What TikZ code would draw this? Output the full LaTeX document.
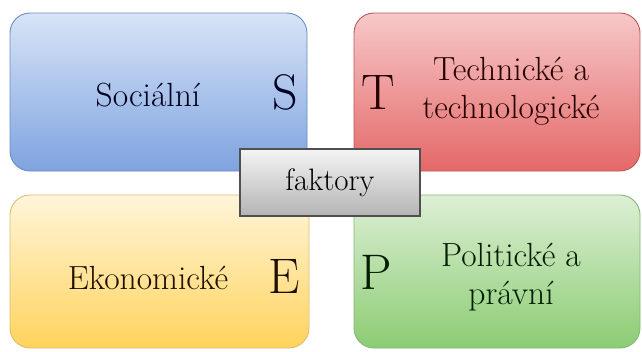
\documentclass[tikz,border=0pt]{standalone}
\definecolor{bluetop}{HTML}{D8E4F7}
\definecolor{bluebot}{HTML}{7EA3DF}
\definecolor{blueline}{HTML}{6A8CC2}
\definecolor{redtop}{HTML}{F7C8C8}
\definecolor{redbot}{HTML}{E46868}
\definecolor{redline}{HTML}{BE5656}
\definecolor{yeltop}{HTML}{FFF5DA}
\definecolor{yelbot}{HTML}{FFD35C}
\definecolor{yelline}{HTML}{DDBE72}
\definecolor{grntop}{HTML}{DDEFD5}
\definecolor{grnbot}{HTML}{8BCC73}
\definecolor{grnline}{HTML}{86B676}
\definecolor{facttop}{HTML}{F4F4F4}
\definecolor{factbot}{HTML}{B4B4B4}
\definecolor{factline}{HTML}{505050}
\tikzset{
  quad/.style={rounded corners=20pt, line width=0.9pt, minimum width=297pt, minimum height=158pt, inner sep=0pt},
  factbox/.style={draw=factline, line width=1.6pt, top color=facttop, bottom color=factbot, minimum width=180pt, minimum height=67pt, inner sep=0pt},
  txtlabel/.style={font=\rmfamily\fontsize{33.5}{38}\selectfont, align=center, inner sep=0pt},
  big/.style={font=\rmfamily\fontsize{50}{56}\selectfont, inner sep=0pt}
}
\begin{document}
\begin{tikzpicture}[x=1pt,y=-1pt]
\useasboundingbox (0,0) rectangle (642,351);
\fill[white] (0,0) rectangle (642,351);
\node[quad, draw=blueline, top color=bluetop, bottom color=bluebot] (soc) at (158.5,92) {};
\node[quad, draw=redline, top color=redtop, bottom color=redbot, minimum width=286pt] (tech) at (497,92) {};
\node[quad, draw=yelline, top color=yeltop, bottom color=yelbot, minimum width=299pt, minimum height=153pt] (eko) at (159.5,271.5) {};
\node[quad, draw=grnline, top color=grntop, bottom color=grnbot, minimum width=286pt, minimum height=153pt] (pol) at (497,271.5) {};
\node[factbox] (fak) at (330,182.5) {};
\node[txtlabel, text=black!88!blue] (tsoc) at (148,95) {Sociální};
\node[big, text=black!85!blue] (ls) at (285,92) {S};
\node[big, text=black!85!red] (lt) at (378,92) {T};
\node[txtlabel, text=black!85!red] (ttech) at (511,91) {Technické a\\technologické};
\node[txtlabel, text=black!88!orange] (teko) at (148,278) {Ekonomické};
\node[big, text=black!88!orange] (le) at (284,276) {E};
\node[big, text=black!88!green] (lp) at (376,272) {P};
\node[txtlabel, text=black!88!green] (tpol) at (511,277) {Politické a\\právní};
\node[txtlabel, font=\rmfamily\fontsize{31}{38}\selectfont, text=black] (tfak) at (330,183) {faktory};
\end{tikzpicture}
\end{document}
